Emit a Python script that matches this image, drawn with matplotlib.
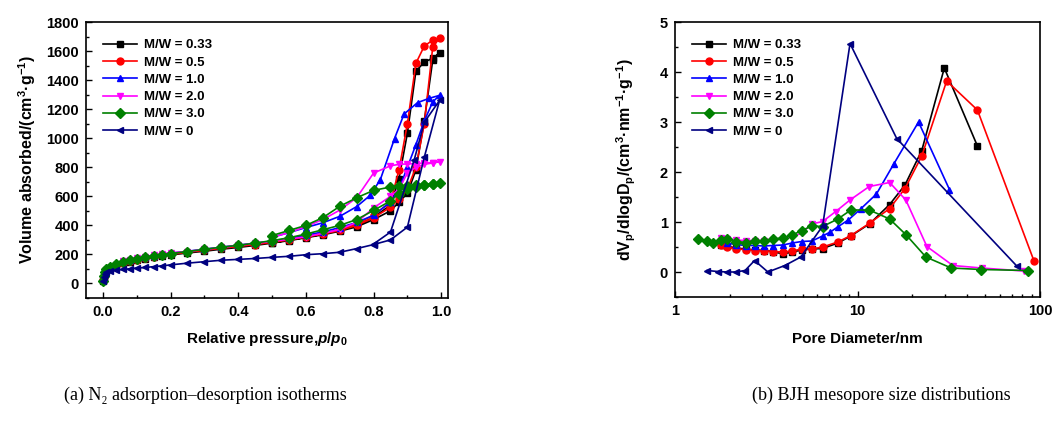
import matplotlib
matplotlib.use("Agg")
import matplotlib.pyplot as plt
from matplotlib.ticker import MultipleLocator, LogLocator, NullFormatter, FixedLocator

plt.rcParams['font.family'] = ['Liberation Sans', 'DejaVu Sans']
plt.rcParams['font.weight'] = 'bold'
plt.rcParams['mathtext.fontset'] = 'custom'
plt.rcParams['mathtext.rm'] = 'Liberation Sans:bold'
plt.rcParams['mathtext.it'] = 'Liberation Sans:italic:bold'
plt.rcParams['mathtext.bf'] = 'Liberation Sans:bold'

LABELS = ["M/W = 0.33", "M/W = 0.5", "M/W = 1.0", "M/W = 2.0", "M/W = 3.0", "M/W = 0"]
COLORS = ["#000000", "#ff0000", "#0000ff", "#ff00ff", "#008000", "#000080"]
MARKERS = ["s", "o", "^", "v", "D", "<"]

# --- (a) N2 isotherms: adsorption (low + high p) then desorption ---
p_low = [0.001, 0.003, 0.006, 0.01, 0.02, 0.04, 0.06, 0.08, 0.10, 0.125, 0.15, 0.175,
         0.20, 0.25, 0.30, 0.35, 0.40, 0.45, 0.50, 0.55, 0.60, 0.65, 0.70, 0.75, 0.80]
p_high = [0.85, 0.875, 0.90, 0.925, 0.95, 0.975, 0.995]
p_des = [0.975, 0.95, 0.925, 0.90, 0.875, 0.85, 0.80, 0.75, 0.70, 0.65, 0.60, 0.55, 0.50]

v033_low = [20, 45, 70, 90, 105, 125, 138, 150, 160, 170, 180, 188, 196, 210, 222, 236,
            248, 262, 278, 295, 315, 335, 360, 390, 440]
v033_high = [500, 560, 620, 780, 1120, 1540, 1587]
v033_des = [1550, 1525, 1460, 1035, 720, 540, 455, 400, 368, 340, 318, 298, 280]

v05_low = [22, 48, 72, 92, 108, 128, 142, 154, 165, 175, 185, 193, 200, 215, 228, 242,
           255, 268, 283, 300, 320, 340, 365, 400, 452]
v05_high = [525, 580, 650, 800, 1100, 1630, 1690]
v05_des = [1675, 1635, 1515, 1100, 780, 560, 470, 410, 372, 345, 325, 305, 288]

# M/W = 1.0 and 2.0 start later in p
v10_low = [140, 152, 162, 172, 182, 192, 200, 208, 222, 236, 250, 264, 278, 292, 310,
           332, 355, 385, 420, 470]
v10_high = [560, 650, 800, 955, 1120, 1250, 1295]
p10_des = [0.965, 0.93, 0.89, 0.862, 0.82, 0.79, 0.75, 0.70, 0.65, 0.60, 0.55, 0.50]
v10_des = [1275, 1245, 1166, 998, 715, 607, 529, 462, 418, 385, 350, 318]

v20_low = [155, 165, 175, 185, 195, 205, 212, 220, 235, 248, 262, 276, 290, 305, 322,
           345, 372, 420, 520]
v20_high = [600, 650, 760, 800, 820, 830, 837]
v20_des = [832, 830, 825, 823, 820, 810, 760, 590, 505, 440, 392, 350, 318]

v30_low = [20, 50, 80, 100, 115, 135, 150, 160, 170, 180, 190, 198, 206, 220, 235, 250,
           262, 278, 295, 315, 340, 370, 400, 440, 503]
v30_high = [568, 618, 650, 665, 675, 685, 692]
v30_des = [687, 680, 675, 672, 668, 664, 641, 590, 531, 453, 400, 365, 330]

v0_low = [20, 45, 65, 80, 88, 92, 97, 101, 106, 110, 116, 121, 128, 140, 150, 160, 166,
          172, 180, 187, 198, 205, 215, 240, 268]
p0_high = [0.85, 0.90, 0.95, 0.995]
v0_high = [300, 388, 870, 1260]
p0_des = [0.95, 0.92, 0.85, 0.80]
v0_des = [1110, 850, 354, 272]

# --- (b) BJH pore size distributions ---
d033 = [1.78, 1.92, 2.15, 2.44, 2.75, 3.06, 3.43, 3.90, 4.39, 4.95, 5.62, 6.44, 7.8,
        9.2, 11.7, 15.0, 18.2, 22.5, 29.9, 45.4]
y033 = [0.55, 0.52, 0.48, 0.46, 0.44, 0.43, 0.41, 0.36, 0.40, 0.44, 0.46, 0.47, 0.58,
        0.72, 0.97, 1.35, 1.74, 2.43, 4.08, 2.52]
d05 = [1.78, 1.92, 2.15, 2.44, 2.75, 3.06, 3.43, 3.90, 4.39, 4.95, 5.62, 6.44, 7.8,
       9.2, 11.7, 15.0, 18.2, 22.5, 30.8, 45.4, 92.5]
y05 = [0.54, 0.50, 0.46, 0.45, 0.43, 0.42, 0.41, 0.40, 0.42, 0.46, 0.46, 0.50, 0.60,
       0.73, 0.98, 1.27, 1.67, 2.32, 3.82, 3.24, 0.23]
d10 = [1.92, 2.15, 2.44, 2.75, 3.06, 3.43, 3.90, 4.39, 4.95, 5.62, 6.44, 7.1, 7.85,
       8.9, 10.4, 12.7, 15.8, 21.6, 31.9]
y10 = [0.58, 0.55, 0.53, 0.53, 0.52, 0.53, 0.54, 0.58, 0.61, 0.62, 0.72, 0.80, 0.91,
       1.04, 1.26, 1.56, 2.16, 3.00, 1.65]
d20 = [1.78, 1.92, 2.15, 2.44, 2.75, 3.06, 3.43, 3.90, 4.39, 4.95, 5.62, 6.44, 7.6,
       9.1, 11.6, 15.0, 18.4, 24.0, 33.3, 47.9, 81.5]
y20 = [0.68, 0.66, 0.64, 0.63, 0.63, 0.63, 0.64, 0.66, 0.70, 0.78, 0.96, 1.01, 1.21,
       1.44, 1.71, 1.79, 1.44, 0.51, 0.13, 0.08, 0.02]
d30 = [1.34, 1.49, 1.62, 1.78, 1.92, 2.15, 2.44, 2.73, 3.06, 3.43, 3.90, 4.39, 4.95,
       5.62, 6.44, 7.8, 9.2, 11.6, 15.0, 18.5, 23.7, 32.6, 47.5, 86.0]
y30 = [0.66, 0.63, 0.59, 0.64, 0.66, 0.61, 0.59, 0.63, 0.62, 0.66, 0.68, 0.74, 0.83,
       0.92, 0.91, 1.06, 1.24, 1.24, 1.06, 0.74, 0.30, 0.08, 0.05, 0.03]
d0 = [1.50, 1.71, 1.92, 2.15, 2.42, 2.73, 3.23, 4.00, 4.89, 6.44, 9.1, 16.4, 74.6]
y0 = [0.03, 0.01, 0.0, 0.0, 0.03, 0.23, 0.0, 0.13, 0.30, 0.92, 4.57, 2.67, 0.12]


def style_axes(ax):
    for s in ax.spines.values():
        s.set_linewidth(1.2)
    ax.tick_params(which='both', direction='in', top=False, right=False,
                   labelsize=10.5, pad=5, width=1.0)
    ax.tick_params(which='major', length=4)
    ax.tick_params(which='minor', length=2.5)
    for lab in ax.get_xticklabels() + ax.get_yticklabels():
        lab.set_fontweight('bold')


def add_legend(ax):
    ax.legend(loc='upper left', frameon=False, prop={'weight': 'bold', 'size': 9.5},
              handlelength=2.6, labelspacing=0.38, borderaxespad=0.9, handletextpad=0.5)


fig = plt.figure(figsize=(10.61, 4.21), dpi=100)
W, H = 1061, 421
ax1 = fig.add_axes([86 / W, 1 - 298 / H, (448 - 86) / W, (298 - 22) / H])
ax2 = fig.add_axes([675 / W, 1 - 297 / H, (1040 - 675) / W, (297 - 22) / H])

kw = dict(lw=1.2, ms=5)
iso = [
    (p_low + p_high + p_des, v033_low + v033_high + v033_des),
    (p_low + p_high + p_des, v05_low + v05_high + v05_des),
    (p_low[5:] + p_high + p10_des, v10_low + v10_high + v10_des),
    (p_low[6:] + p_high + p_des, v20_low + v20_high + v20_des),
    (p_low + p_high + p_des, v30_low + v30_high + v30_des),
    (p_low + p0_high + p0_des, v0_low + v0_high + v0_des),
]
for (x, y), lab, c, m in zip(iso, LABELS, COLORS, MARKERS):
    ax1.plot(x, y, color=c, marker=m, label=lab, **kw)

ax1.set_xlim(-0.05, 1.02)
ax1.set_ylim(-100, 1800)
ax1.xaxis.set_major_locator(MultipleLocator(0.2))
ax1.xaxis.set_minor_locator(MultipleLocator(0.1))
ax1.yaxis.set_major_locator(MultipleLocator(200))
ax1.yaxis.set_minor_locator(MultipleLocator(100))
ax1.xaxis.set_major_formatter(plt.FuncFormatter(lambda v, _: f"{v:.1f}"))
ax1.set_xlabel(r"Relative pressure,$\mathit{p/p_0}$", fontsize=11, fontweight='bold', labelpad=8)
ax1.set_ylabel(r"Volume absorbed/(cm$^{3}$·g$^{-1}$)", fontsize=11.5, fontweight='bold', labelpad=6)
style_axes(ax1)
add_legend(ax1)

psd = [(d033, y033), (d05, y05), (d10, y10), (d20, y20), (d30, y30), (d0, y0)]
for (x, y), lab, c, m in zip(psd, LABELS, COLORS, MARKERS):
    ax2.plot(x, y, color=c, marker=m, label=lab, **kw)

ax2.set_xscale('log')
ax2.set_xlim(1, 100)
ax2.set_ylim(-0.5, 5)
ax2.xaxis.set_major_locator(FixedLocator([1, 10, 100]))
ax2.xaxis.set_minor_locator(LogLocator(base=10, subs=range(2, 10)))
ax2.xaxis.set_minor_formatter(NullFormatter())
ax2.xaxis.set_major_formatter(plt.FuncFormatter(lambda v, _: f"{v:g}"))
ax2.yaxis.set_major_locator(MultipleLocator(1))
ax2.yaxis.set_minor_locator(MultipleLocator(0.5))
ax2.set_xlabel("Pore Diameter/nm", fontsize=11, fontweight='bold', labelpad=10)
ax2.set_ylabel(r"dV$_\mathrm{p}$/dlogD$_\mathrm{p}$/(cm$^{3}$·nm$^{-1}$·g$^{-1}$)",
               fontsize=11.5, fontweight='bold', labelpad=16)
style_axes(ax2)
add_legend(ax2)

cap = dict(fontsize=13, fontweight='normal', family=['Liberation Serif', 'DejaVu Serif'],
           ha='center', va='center')
fig.text(205 / W, 1 - 395 / H, "(a) N₂ adsorption–desorption isotherms", **cap)
fig.text(881 / W, 1 - 395 / H, "(b) BJH mesopore size distributions", **cap)

fig.savefig("out.png", dpi=100)
